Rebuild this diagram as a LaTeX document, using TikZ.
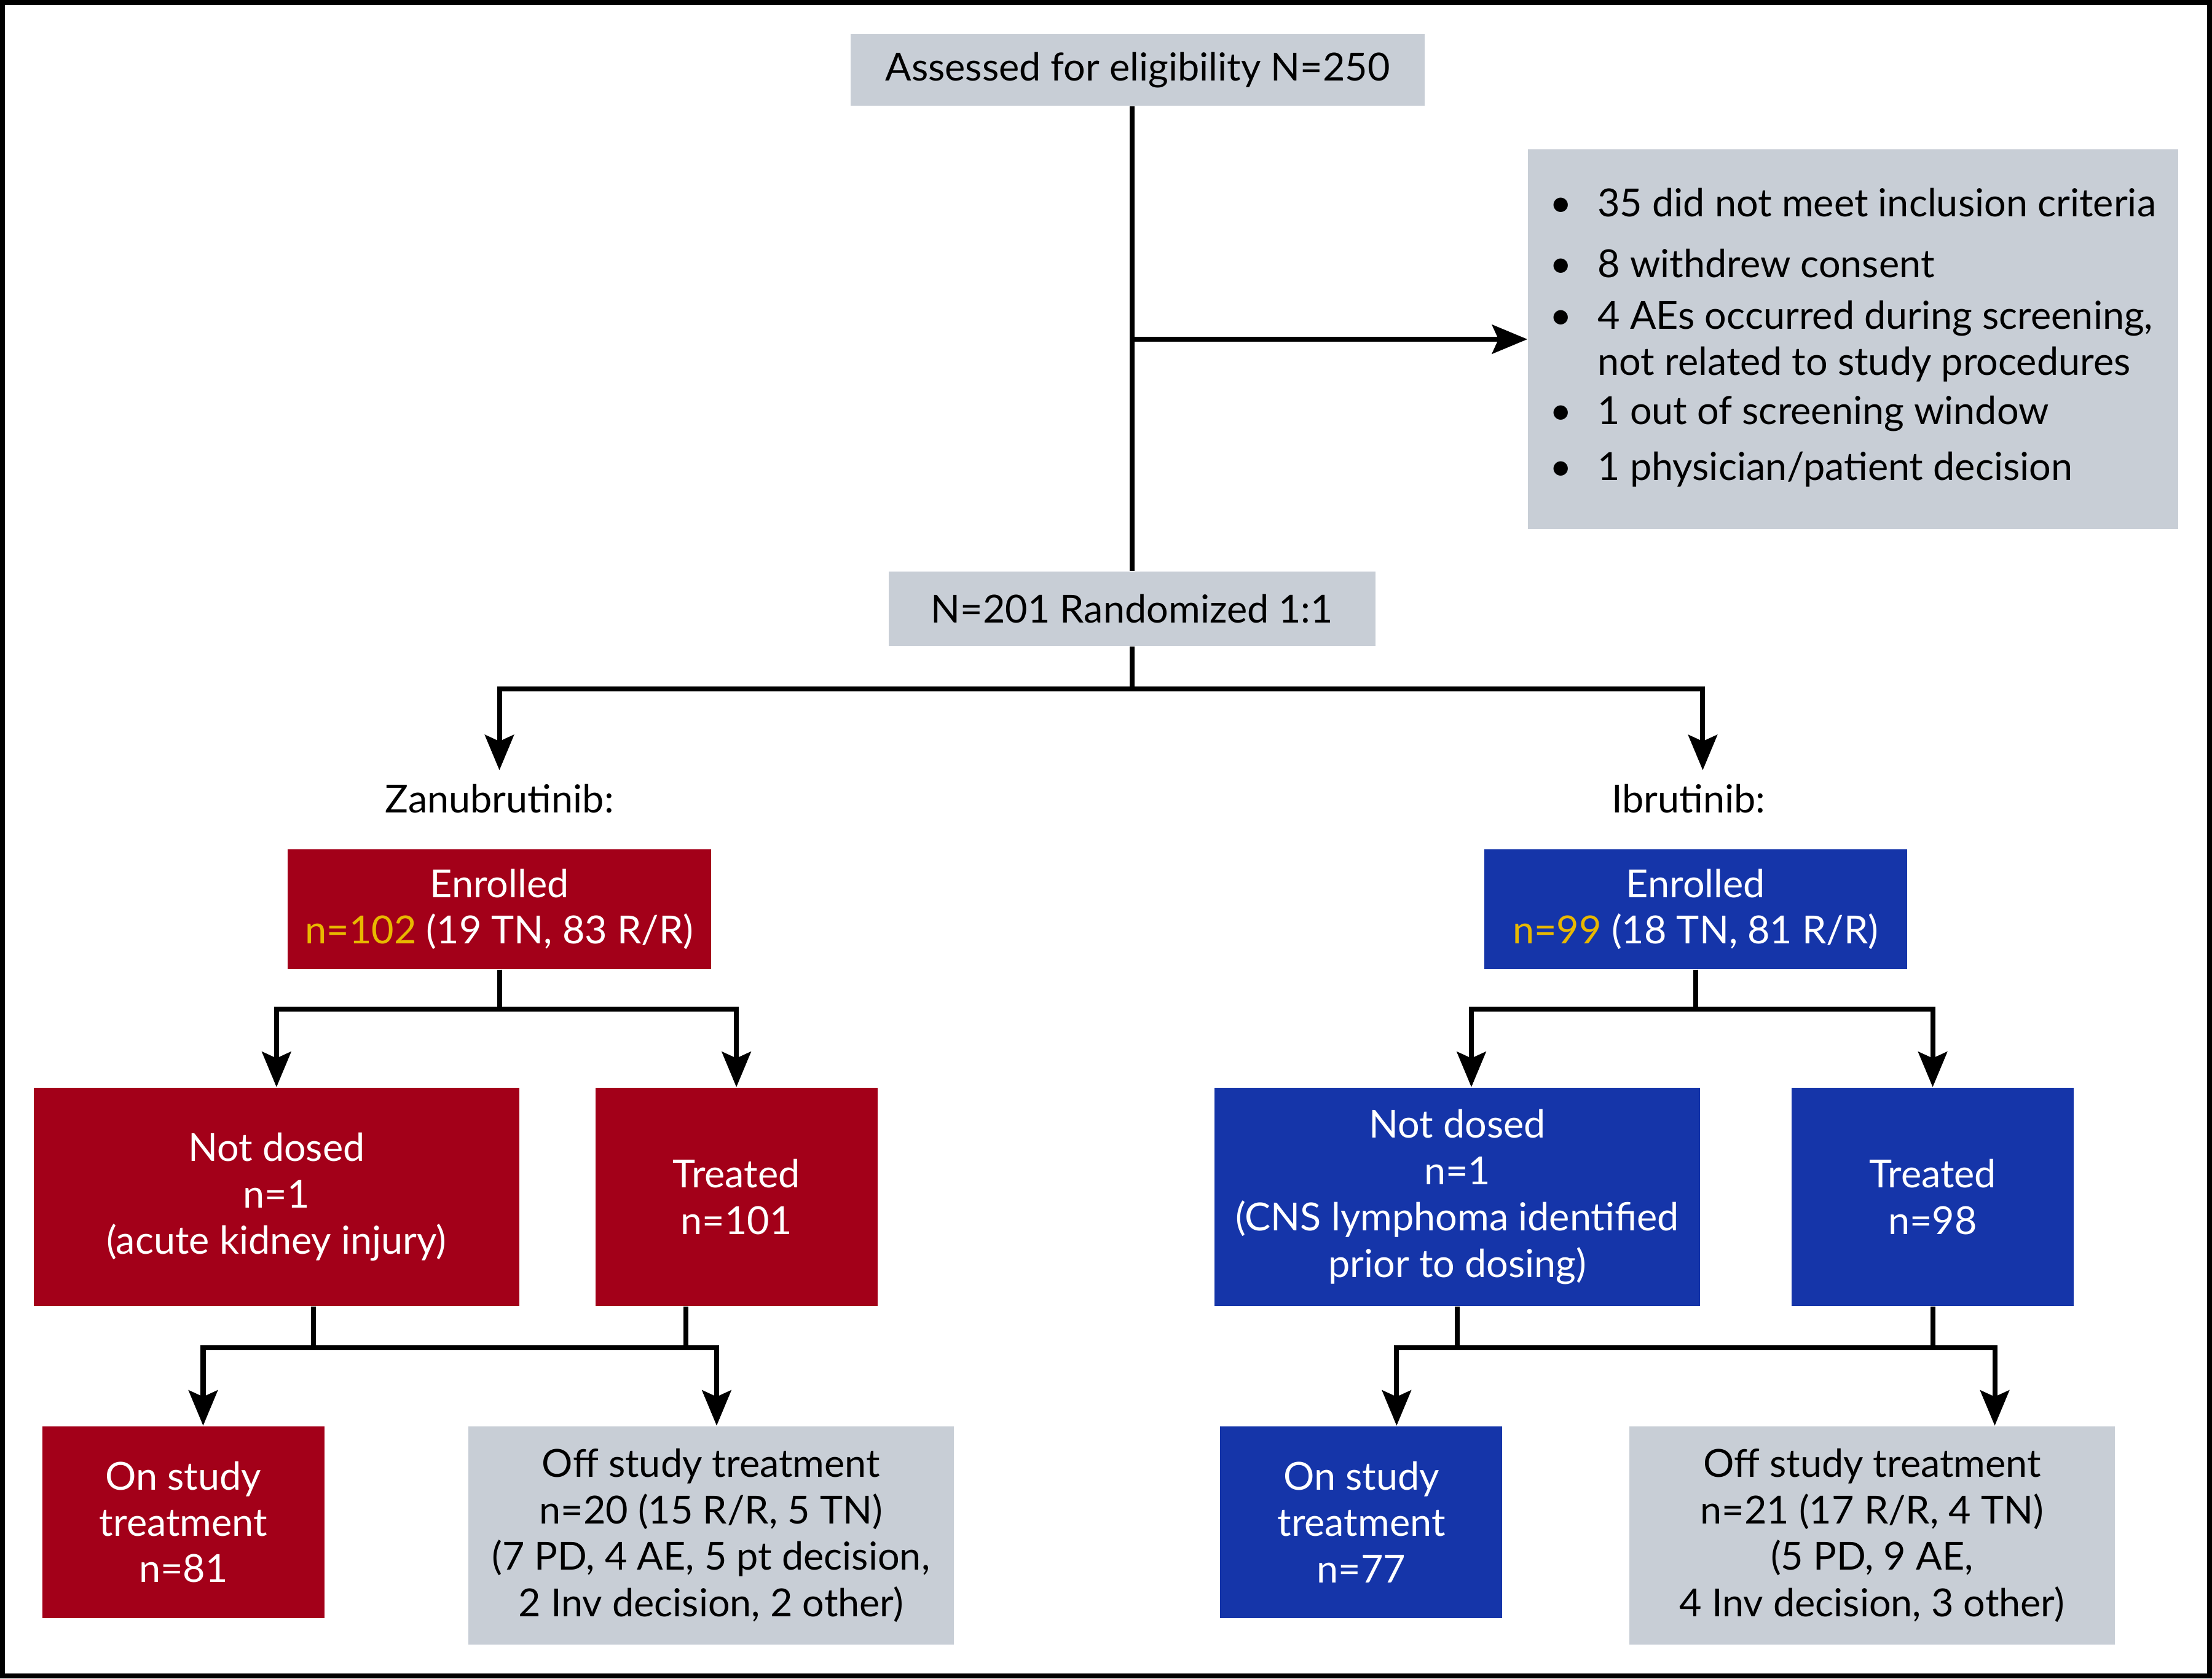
\documentclass[tikz,border=0pt]{standalone}
\usepackage{fontspec}
\setmainfont{Lato}
\usetikzlibrary{arrows.meta,positioning}

\definecolor{zanured}{HTML}{A30019}
\definecolor{ibrublue}{HTML}{1535A9}
\definecolor{boxgray}{HTML}{C8CED6}
\definecolor{countgold}{HTML}{E8B800}

\tikzset{
  base/.style={font=\fontsize{15.6}{18.7}\selectfont, align=center, inner sep=0pt},
  graybox/.style={base, fill=boxgray, text=black},
  redbox/.style={base, fill=zanured, text=white},
  bluebox/.style={base, fill=ibrublue, text=white},
  link/.style={line width=2pt},
  arr/.style={link, -{Stealth[length=0.5cm, width=0.41cm, inset=0.09cm]}},
}

\begin{document}
\begin{tikzpicture}[x=0.02cm, y=-0.02cm]
  \useasboundingbox (0,0) rectangle (1568,1190);
  \draw[line width=0.07cm] (1.75,1.75) rectangle (1566.25,1188.25);

  % screening
  \node[graybox, minimum width=8.14cm, minimum height=1.02cm] (assess) at (806.5,49.5)
    {Assessed for eligibility N=250};
  \node[graybox, minimum width=9.22cm, minimum height=5.38cm] (excl) at (1313.5,240.5)
    {\begin{tabular}{@{}l@{\hspace{0.36cm}}l@{}}
      \textbullet & 35 did not meet inclusion criteria\\[6pt]
      \textbullet & 8 withdrew consent\\[2pt]
      \textbullet & 4 AEs occurred during screening,\\
                  & not related to study procedures\\[1pt]
      \textbullet & 1 out of screening window\\[4pt]
      \textbullet & 1 physician/patient decision
    \end{tabular}};
  \node[graybox, minimum width=6.9cm, minimum height=1.06cm] (rand) at (802.5,431.5)
    {N=201 Randomized 1:1};

  \draw[link] (rand.north) -- (rand.north |- assess.south);
  \draw[arr] (rand.north |- excl.west) -- (excl.west);

  % arms
  \node[base] (zlab) at (354,566) {Zanubrutinib:};
  \node[base] (ilab) at (1197,566) {Ibrutinib:};
  \coordinate (zin) at (354,546);
  \coordinate (iin) at (1207,546);
  \draw[arr] (rand.south) -- ++(0,30) -| (zin);
  \draw[arr] (rand.south) -- ++(0,30) -| (iin);

  % zanubrutinib
  \node[redbox, minimum width=6cm, minimum height=1.7cm] (zenr) at (354,644.5)
    {Enrolled\\{\color{countgold}n=102} (19 TN, 83 R/R)};
  \node[redbox, minimum width=6.88cm, minimum height=3.1cm] (znd) at (196,848.5)
    {Not dosed\\n=1\\(acute kidney injury)};
  \node[redbox, minimum width=4cm, minimum height=3.1cm] (ztr) at (522,848.5)
    {Treated\\n=101};
  \node[redbox, minimum width=4cm, minimum height=2.72cm] (zon) at (130,1079)
    {On study\\treatment\\n=81};
  \node[graybox, minimum width=6.88cm, minimum height=3.1cm] (zoff) at (504,1088.5)
    {Off study treatment\\n=20 (15 R/R, 5 TN)\\(7 PD, 4 AE, 5 pt decision,\\2 Inv decision, 2 other)};

  \draw[arr] (zenr.south) -- ++(0,28) -| (znd.north);
  \draw[arr] (zenr.south) -- ++(0,28) -| (ztr.north);
  \draw[arr] ([xshift=0.52cm]znd.south) -- ++(0,29) -| ([xshift=0.28cm]zon.north);
  \draw[arr] ([xshift=0.52cm]znd.south) -- ++(0,29) -| ([xshift=0.08cm]zoff.north);
  \draw[link] ([xshift=-0.72cm]ztr.south) -- ++(0,29);

  % ibrutinib
  \node[bluebox, minimum width=6cm, minimum height=1.7cm] (ienr) at (1202,644.5)
    {Enrolled\\{\color{countgold}n=99} (18 TN, 81 R/R)};
  \node[bluebox, minimum width=6.88cm, minimum height=3.1cm] (ind) at (1033,848.5)
    {Not dosed\\n=1\\(CNS lymphoma identified\\prior to dosing)};
  \node[bluebox, minimum width=4cm, minimum height=3.1cm] (itr) at (1370,848.5)
    {Treated\\n=98};
  \node[bluebox, minimum width=4cm, minimum height=2.72cm] (ion) at (965,1079)
    {On study\\treatment\\n=77};
  \node[graybox, minimum width=6.88cm, minimum height=3.1cm] (ioff) at (1327,1088.5)
    {Off study treatment\\n=21 (17 R/R, 4 TN)\\(5 PD, 9 AE,\\4 Inv decision, 3 other)};

  \draw[arr] (ienr.south) -- ++(0,28) -| ([xshift=0.2cm]ind.north);
  \draw[arr] (ienr.south) -- ++(0,28) -| (itr.north);
  \draw[arr] (ind.south) -- ++(0,29) -| ([xshift=0.5cm]ion.north);
  \draw[arr] (ind.south) -- ++(0,29) -| ([xshift=1.74cm]ioff.north);
  \draw[link] (itr.south) -- ++(0,29);
\end{tikzpicture}
\end{document}
